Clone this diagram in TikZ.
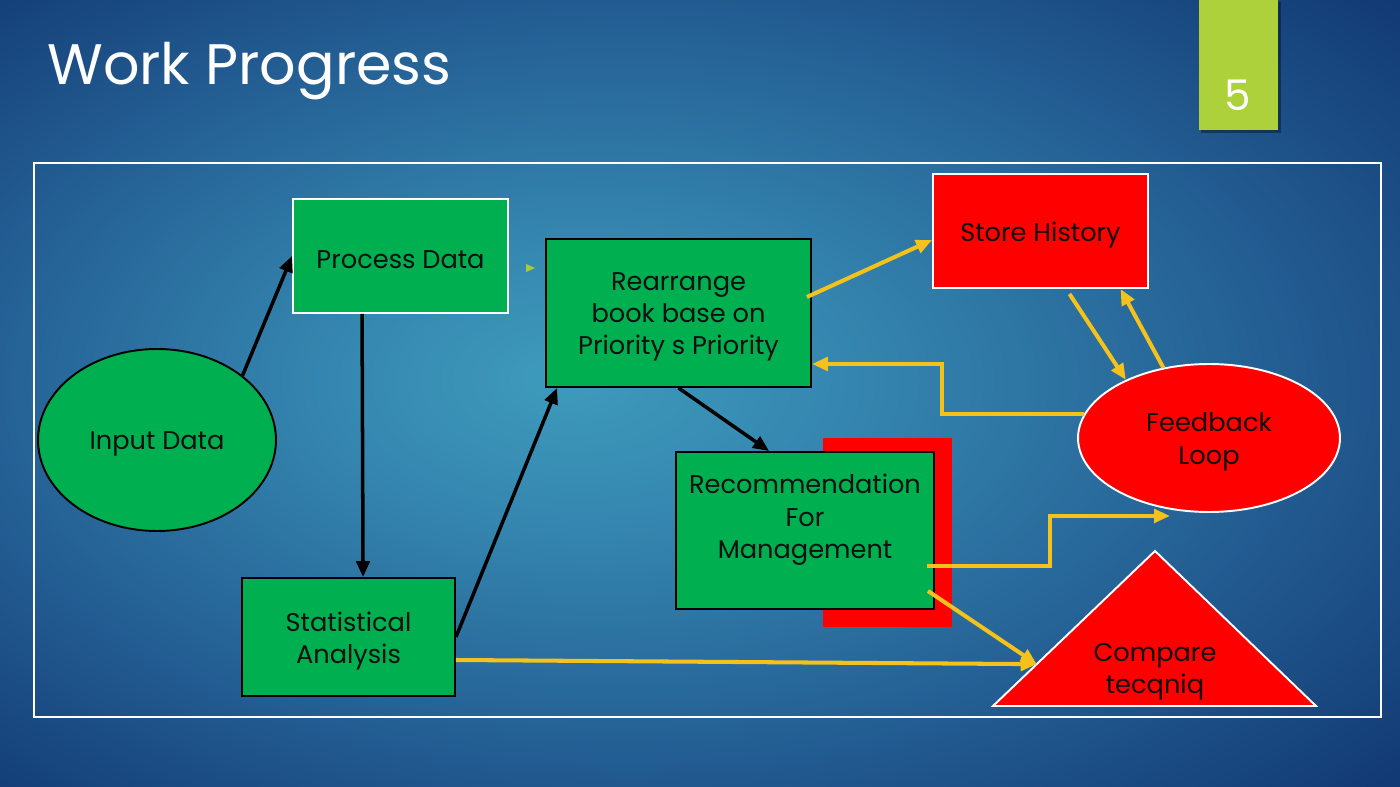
\documentclass[tikz,border=0pt]{standalone}
\usepackage{fontspec}
\setmainfont{Poppins}
\usetikzlibrary{arrows.meta,shapes.geometric,calc}

\definecolor{boxgreen}{HTML}{00B050}
\definecolor{boxred}{HTML}{FF0000}
\definecolor{gold}{HTML}{F5C21B}
\definecolor{tabgreen}{HTML}{ADD13A}
\definecolor{markgreen}{HTML}{A6CE39}
\definecolor{txt}{HTML}{101010}
\definecolor{bgC}{HTML}{3E9BBC}
\definecolor{bgM}{HTML}{3587B0}
\definecolor{bgN}{HTML}{245F94}
\definecolor{bgO}{HTML}{123A74}
\definecolor{bgE}{HTML}{0D2E69}

% slide background: light teal centre fading to navy edges
\pgfdeclareradialshading{slidebg}{\pgfpoint{-5bp}{1bp}}{%
  color(0bp)=(bgC); color(9bp)=(bgM); color(23bp)=(bgN);
  color(36bp)=(bgO); color(50bp)=(bgE)}

\begin{document}
\begin{tikzpicture}[x=0.02cm,y=-0.02cm,
  boxtext/.style={font=\fontsize{14.6}{18.4}\selectfont,text=txt,align=center,yshift=-0.08cm},
  greenbox/.style={rectangle,fill=boxgreen,draw=black,line width=1.1pt,inner sep=0pt},
  greenboxw/.style={greenbox,draw=white},
  redbox/.style={rectangle,fill=boxred,draw=white,line width=1.1pt,inner sep=0pt},
  greenoval/.style={ellipse,fill=boxgreen,draw=black,line width=1.1pt,inner sep=0pt},
  redoval/.style={ellipse,fill=boxred,draw=white,line width=1.1pt,inner sep=0pt},
  blackarrow/.style={draw=black,line width=2pt,-{Triangle[length=0.32cm,width=0.27cm]}},
  goldarrow/.style={draw=gold,line width=2.3pt,-{Triangle[length=0.32cm,width=0.27cm]}},
]
% background
\shade[shading=slidebg] (0,0) rectangle (1400,787);
\useasboundingbox (0,0) rectangle (1400,787);

% title
\node[anchor=base west,inner sep=0pt,text=white,font=\fontsize{32.5}{38}\selectfont] (title) at (47,85) {Work Progress};

% slide number tab
\fill[black,opacity=0.35] (1201,2) rectangle (1281,133);
\fill[tabgreen] (1199,0) rectangle (1278,130);
\node[text=white,font=\fontsize{24}{28}\selectfont] (pagenum) at (1238,95) {5};

% content frame
\draw[white,line width=0.7pt] (34,163) rectangle (1381,717);

% shapes
\node[greenoval,minimum width=4.76cm,minimum height=3.64cm] (input) at (157,440) {};
\node[greenboxw,minimum width=4.3cm,minimum height=2.28cm] (proc) at (400.5,256) {};
\node[greenbox,minimum width=5.3cm,minimum height=2.96cm] (rearr) at (678.5,313) {};
\fill[boxred] (823,438) rectangle (952,627);
\node[greenbox,minimum width=5.16cm,minimum height=3.14cm] (rec) at (805,530.5) {};
\node[greenbox,minimum width=4.26cm,minimum height=2.36cm] (stat) at (348.5,637) {};
\node[redbox,minimum width=4.3cm,minimum height=2.28cm] (store) at (1040.5,231) {};
\node[redoval,minimum width=5.24cm,minimum height=2.96cm] (fb) at (1209,438) {};

% comparison triangle
\coordinate (cmpT) at (1155,551);
\coordinate (cmpL) at (993,706);
\coordinate (cmpR) at (1316,706);
\filldraw[fill=boxred,draw=white,line width=1.1pt] (cmpL) -- (cmpT) -- (cmpR) -- cycle;
\coordinate (cmpin) at ($(cmpL)!0.27!(cmpT)$);

% labels
\node[boxtext] (inputtxt) at (input) {Input Data};
\node[boxtext] (proctxt) at (proc) {Process Data};
\node[boxtext] (rearrtxt) at (rearr) {Rearrange\\book base on\\Priority s Priority};
\node[boxtext] (rectxt) at (805,516) {Recommendation\\For\\Management};
\node[boxtext] (stattxt) at (stat) {Statistical\\Analysis};
\node[boxtext] (storetxt) at (store) {Store History};
\node[boxtext] (fbtxt) at (fb) {Feedback\\Loop};
\node[boxtext] (cmptxt) at (1155,668) {Compare\\tecqniq};

% small marker beside Process Data
\fill[markgreen] (526,264) -- (535,268) -- (526,272) -- cycle;

% black connectors
\draw[blackarrow] (input.37) -- (proc.west);
\draw[blackarrow] ([shift={(70,0)}]proc.south west) -- ([shift={(122,0)}]stat.north west);
\draw[blackarrow] (stat.east) -- ([shift={(12,0)}]rearr.south west);
\draw[blackarrow] (rearr.south) -- ([shift={(94,0)}]rec.north west);

% gold connectors
\draw[goldarrow] ([shift={(-5,-16)}]rearr.east) -- ([shift={(0,9)}]store.west);
\draw[goldarrow] ([shift={(29,5)}]store.south) -- (fb.145);
\draw[goldarrow] (fb.123) -- ([shift={(80,0)}]store.south);
\draw[goldarrow] (fb.169) -- ++(-142,0) |- ([shift={(0,51)}]rearr.east);
\draw[goldarrow] ([shift={(-8,35.5)}]rec.east) -- ++(123,0) |- ([shift={(-39,3)}]fb.south);
\draw[goldarrow] ([shift={(-7,-19)}]rec.south east) -- (cmpin);
\draw[goldarrow] ([shift={(0,23)}]stat.east) -- (cmpin);
\end{tikzpicture}
\end{document}
